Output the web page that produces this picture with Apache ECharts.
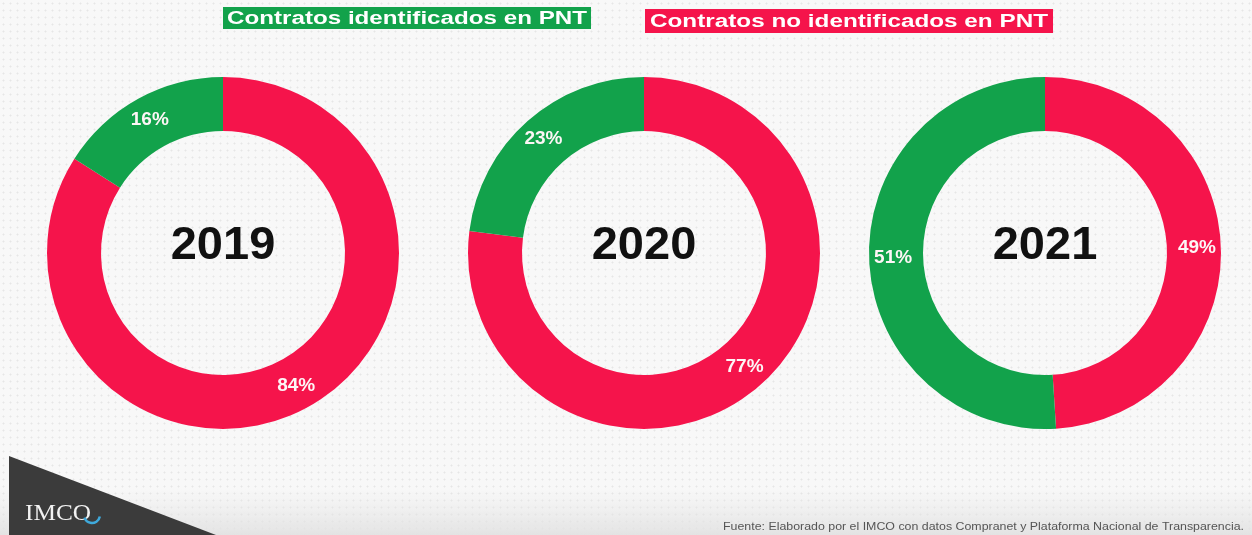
<!DOCTYPE html>
<html>
<head>
<meta charset="utf-8">
<script src="https://cdn.jsdelivr.net/npm/echarts@6/dist/echarts.min.js"></script>
<style>
  html, body { margin: 0; padding: 0; }
  #chart {
    width: 1252px; height: 535px;
    background-color: #f8f8f8;
    background-image: radial-gradient(circle, #e6e6e6 0.8px, transparent 1.2px);
    background-size: 7px 7px;
  }
</style>
</head>
<body>
<div id="chart"></div>
<script>
// datos
var years = ['2019', '2020', '2021'];
var categories = ['Contratos no identificados en PNT', 'Contratos identificados en PNT'];
var noIdentificados = [84, 77, 49];
var identificados = [16, 23, 51];
var fuente = 'Fuente: Elaborado por el IMCO con datos Compranet y Plataforma Nacional de Transparencia.';

var colorRojo = '#f5144b';
var colorVerde = '#12a24b';
var centros = [[223, 253], [644, 253], [1045, 253]];

// escala horizontal para que el texto llene la caja (imita el espaciado)
function fitScale(text, font, target) {
	var ctx = document.createElement('canvas').getContext('2d');
	ctx.font = font;
	return target / ctx.measureText(text).width;
}

function legendBox(text, color, x, y, w, h, textW) {
	var font = 'bold 18px "Liberation Sans", Arial, sans-serif';
	var s = fitScale(text, font, textW);
	return {
		type: 'group',
		children: [{
			type: 'rect',
			shape: { x: x, y: y, width: w, height: h },
			style: { fill: color }
		}, {
			type: 'text',
			x: x + w / 2,
			y: y + h / 2 + 1,
			scaleX: s,
			style: {
				text: text,
				font: font,
				fill: '#ffffff',
				align: 'center',
				verticalAlign: 'middle'
			}
		}]
	};
}

var chart = echarts.init(document.getElementById('chart'), null, { renderer: 'canvas' });

var series = [];
var graphics = [];
for (var i = 0; i < years.length; i++) {
	series.push({
		name: years[i],
		type: 'pie',
		center: centros[i],
		radius: [122, 176],
		startAngle: 90,
		clockwise: true,
		silent: true,
		animation: false,
		color: [colorRojo, colorVerde],
		label: {
			show: true,
			position: 'inside',
			formatter: '{c}%',
			color: '#fdf6f6',
			fontSize: 19,
			fontWeight: 'bold',
			fontFamily: '"Liberation Sans", Arial, sans-serif'
		},
		labelLine: { show: false },
		data: [
			{ name: categories[0], value: noIdentificados[i] },
			{ name: categories[1], value: identificados[i] }
		]
	});
	graphics.push({
		type: 'text',
		x: centros[i][0],
		y: centros[i][1] - 7,
		style: {
			text: years[i],
			font: 'bold 47px "Liberation Sans", Arial, sans-serif',
			fill: '#111111',
			align: 'center',
			verticalAlign: 'middle'
		}
	});
}

// leyenda
graphics.push(legendBox(categories[1], colorVerde, 223, 7, 368, 22, 360));
graphics.push(legendBox(categories[0], colorRojo, 645, 9, 408, 24, 398));

// franja inferior
graphics.push({
	type: 'rect',
	shape: { x: 0, y: 488, width: 1252, height: 47 },
	style: {
		fill: new echarts.graphic.LinearGradient(0, 0, 0, 1, [
			{ offset: 0, color: 'rgba(230,230,230,0)' },
			{ offset: 1, color: 'rgba(225,225,225,0.9)' }
		])
	}
});
// triangulo oscuro + logo
graphics.push({
	type: 'polygon',
	shape: { points: [[9, 456], [216, 535], [9, 535]] },
	style: { fill: '#3b3b3b' }
});
graphics.push({
	type: 'text',
	x: 25, y: 525,
	scaleX: 1.1,
	style: {
		text: 'IMCO',
		font: '23px "Liberation Serif", "DejaVu Serif", serif',
		fill: '#f2f2f2',
		verticalAlign: 'bottom'
	}
});
graphics.push({
	type: 'arc',
	shape: { cx: 92, cy: 515, r: 8, startAngle: 0.2, endAngle: 2.8 },
	style: { stroke: '#3fa9db', lineWidth: 2.5, fill: null }
});
// fuente
var fuenteFont = '11px "Liberation Sans", Arial, sans-serif';
graphics.push({
	type: 'text',
	x: 1244, y: 527,
	scaleX: fitScale(fuente, fuenteFont, 521),
	style: {
		text: fuente,
		font: fuenteFont,
		fill: '#555555',
		align: 'right',
		verticalAlign: 'middle'
	}
});

chart.setOption({
	backgroundColor: 'transparent',
	animation: false,
	series: series,
	graphic: graphics
});
</script>
</body>
</html>
